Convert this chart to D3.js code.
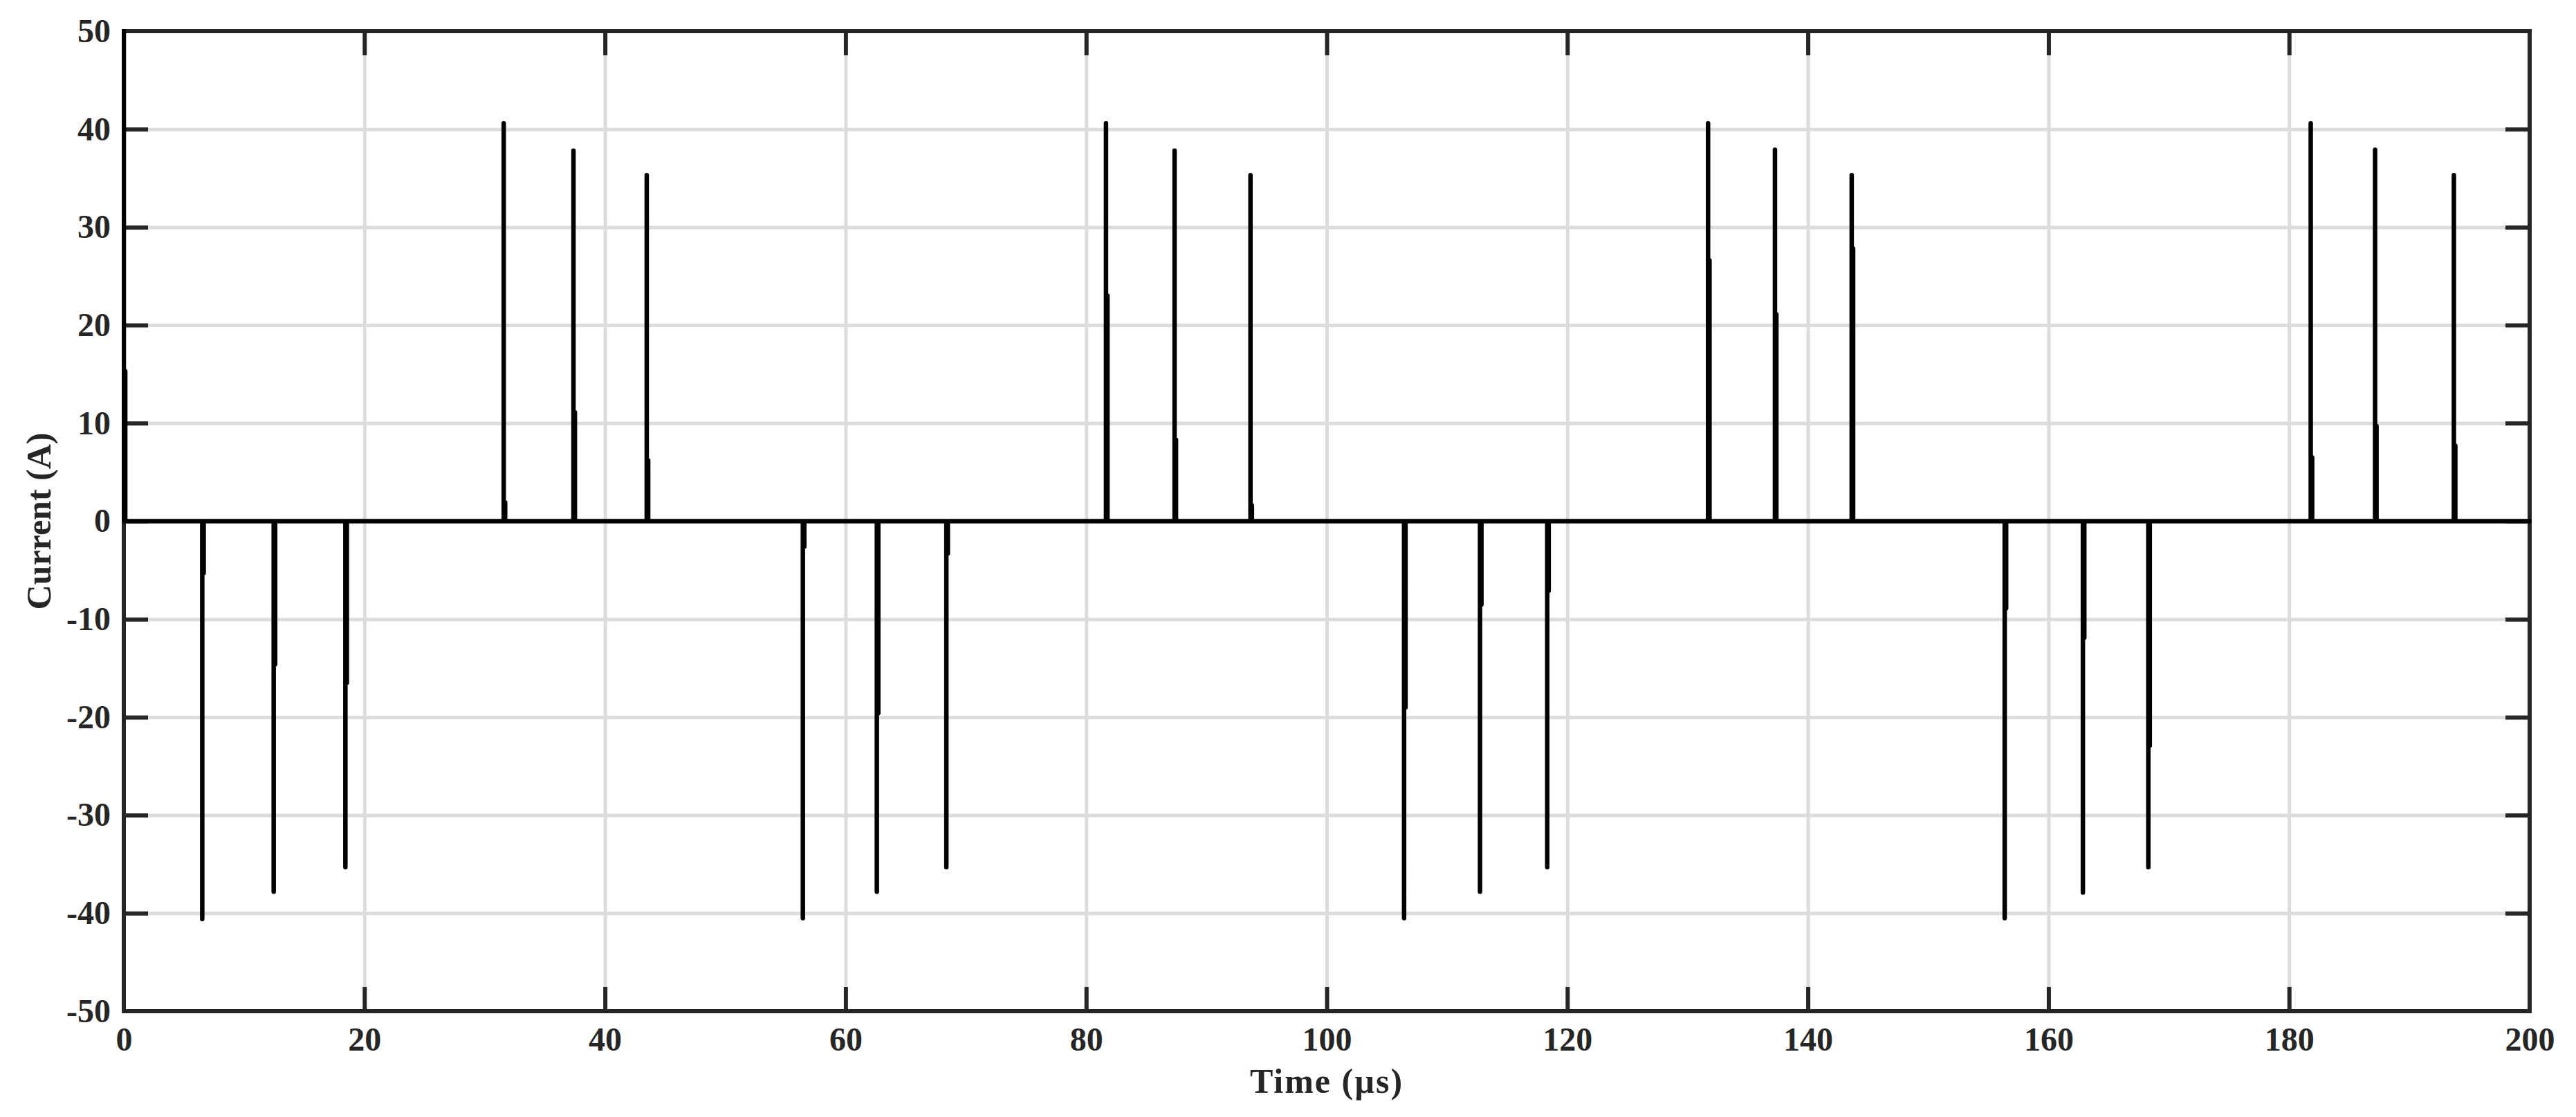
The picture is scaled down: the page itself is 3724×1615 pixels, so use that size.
<!DOCTYPE html>
<html>
<head>
<meta charset="utf-8">
<script src="https://cdn.jsdelivr.net/npm/d3@7"></script>
<style>
  html, body { margin: 0; padding: 0; background: #fff; }
  svg { display: block; }
  text { font-family: "Liberation Serif", "Times New Roman", serif; font-weight: bold; fill: #262626; }
</style>
</head>
<body>
<script>
// ---- Data ----
const xTicks = [0, 20, 40, 60, 80, 100, 120, 140, 160, 180, 200];
const yTicks = [-50, -40, -30, -20, -10, 0, 10, 20, 30, 40, 50];
const xLabel = "Time (µs)";
const yLabel = "Current (A)";

// spike instants (µs), peak current (A) and the value it falls back to right after the peak (A)
const spikeTimes = [0, 6.52, 12.46, 18.42, 31.58, 37.38, 43.47,
                    56.45, 62.6, 68.38, 81.65, 87.35, 93.66,
                    106.43, 112.74, 118.33, 131.7, 137.26, 143.64,
                    156.36, 162.86, 168.3, 181.8, 187.15, 193.7];
const spikePeaks = [55, -40.6, -37.8, -35.3, 40.6, 37.8, 35.3,
                    -40.5, -37.8, -35.3, 40.6, 37.8, 35.3,
                    -40.5, -37.8, -35.3, 40.6, 37.9, 35.3,
                    -40.5, -37.9, -35.3, 40.6, 37.9, 35.3];
const spikeTails = [15.3, -5.3, -14.6, -16.5, 1.9, 11.1, 6.2,
                    -2.6, -19.6, -3.3, 23.0, 8.3, 1.6,
                    -19.0, -8.5, -7.1, 26.6, 21.1, 27.8,
                    -8.9, -11.9, -22.9, 6.5, 9.7, 7.7];
const tailDuration = 0.12; // µs the tail lasts before the current returns to 0
const tEnd = 200;

// build waveform points from the arrays
const wave = [];
spikeTimes.forEach((t, i) => {
  wave.push([t, 0]);
  wave.push([t, spikePeaks[i]]);
  wave.push([t, spikeTails[i]]);
  wave.push([t + tailDuration, spikeTails[i]]);
  wave.push([t + tailDuration, 0]);
});
wave.push([tEnd, 0]);

// ---- Layout ----
const W = 3724, H = 1615;
const m = { left: 179, right: W - 3657, top: 45, bottom: H - 1462 };
const iw = W - m.left - m.right, ih = H - m.top - m.bottom;

const svg = d3.select("body").append("svg").attr("width", W).attr("height", H);
const g = svg.append("g").attr("transform", `translate(${m.left},${m.top})`);

const x = d3.scaleLinear().domain([0, 200]).range([0, iw]);
const y = d3.scaleLinear().domain([-50, 50]).range([ih, 0]);
const fmt = d => String(d);

// grid
const gridX = g.append("g").attr("transform", `translate(0,${ih})`)
  .call(d3.axisBottom(x).tickValues(xTicks).tickSize(-ih).tickFormat(""));
const gridY = g.append("g")
  .call(d3.axisLeft(y).tickValues(yTicks).tickSize(-iw).tickFormat(""));
[gridX, gridY].forEach(a => {
  a.select(".domain").remove();
  a.selectAll(".tick line").attr("stroke", "#dcdcdc").attr("stroke-width", 5);
});

// frame
g.append("rect").attr("x", 0).attr("y", 0).attr("width", iw).attr("height", ih)
  .attr("fill", "none").attr("stroke", "#262626").attr("stroke-width", 6);

// ticks (inward, on all four sides)
const tickLen = 35;
const fs = 48;
const axB = g.append("g").attr("transform", `translate(0,${ih})`)
  .call(d3.axisBottom(x).tickValues(xTicks).tickSizeInner(-tickLen).tickSizeOuter(0).tickPadding(23).tickFormat(fmt));
const axL = g.append("g")
  .call(d3.axisLeft(y).tickValues(yTicks).tickSizeInner(-tickLen).tickSizeOuter(0).tickPadding(19).tickFormat(fmt));
const axT = g.append("g")
  .call(d3.axisTop(x).tickValues(xTicks).tickSizeInner(-tickLen).tickSizeOuter(0).tickFormat(""));
const axR = g.append("g").attr("transform", `translate(${iw},0)`)
  .call(d3.axisRight(y).tickValues(yTicks).tickSizeInner(-tickLen).tickSizeOuter(0).tickFormat(""));
[axB, axL, axT, axR].forEach(a => {
  a.select(".domain").remove();
  a.selectAll(".tick line").attr("stroke", "#262626").attr("stroke-width", 6);
  a.selectAll(".tick text").attr("font-size", fs).attr("fill", "#262626")
    .attr("font-family", "'Liberation Serif','Times New Roman',serif").attr("font-weight", "bold");
});
[axB, axT].forEach(a => a.selectAll(".tick").filter(d => d === 0 || d === 200).select("line").remove());
[axL, axR].forEach(a => a.selectAll(".tick").filter(d => d === -50 || d === 50).select("line").remove());

// data
svg.append("defs").append("clipPath").attr("id", "clip")
  .append("rect").attr("x", -3).attr("y", -3).attr("width", iw + 6).attr("height", ih + 6);
const line = d3.line().x(d => x(d[0])).y(d => y(d[1]));
g.append("path").datum(wave)
  .attr("clip-path", "url(#clip)")
  .attr("fill", "none").attr("stroke", "#000").attr("stroke-width", 6.5)
  .attr("stroke-linejoin", "round").attr("stroke-linecap", "round")
  .attr("d", line);

// axis labels
svg.append("text").attr("x", m.left + iw / 2).attr("y", 1580)
  .attr("text-anchor", "middle").attr("font-size", 50).attr("letter-spacing", 2).text(xLabel);
svg.append("text").attr("transform", `translate(73,${m.top + ih / 2}) rotate(-90)`)
  .attr("text-anchor", "middle").attr("font-size", 50).text(yLabel);
</script>
</body>
</html>
